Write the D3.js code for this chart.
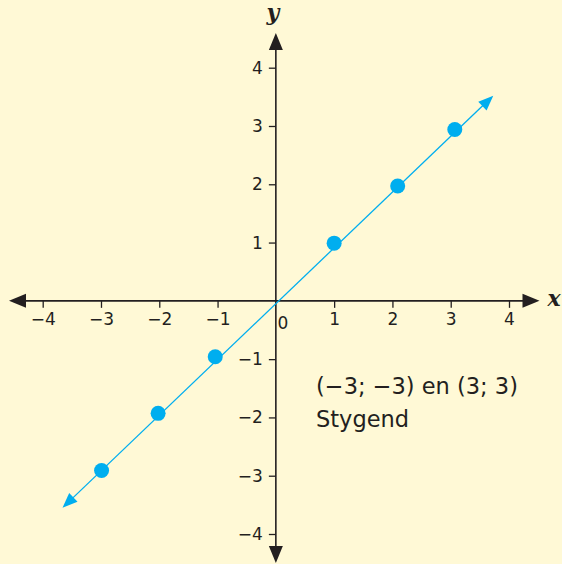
<!DOCTYPE html>
<html>
<head>
<meta charset="utf-8">
<script src="https://cdn.jsdelivr.net/npm/d3@7"></script>
<style>
  body { margin: 0; background: #fff9d6; }
  svg { display: block; }
  text { font-family: "DejaVu Sans", sans-serif; fill: #231f20; }
</style>
</head>
<body>
<svg width="562" height="564"></svg>
<script>
var xTicks = [-4, -3, -2, -1, 1, 2, 3, 4];
var yTicks = [-4, -3, -2, -1, 1, 2, 3, 4];
var pointsX = [-2.99, -2.02, -1.04, 1.0, 2.09, 3.07];
var pointsY = [-2.91, -1.93, -0.96, 0.99, 1.97, 2.94];
var lineX = [-3.66, 3.73];
var lineY = [-3.55, 3.52];
var note = ["(\u22123; \u22123) en (3; 3)", "Stygend"];

var svg = d3.select("svg"),
    width = 562,
    height = 564;

svg.append("rect").attr("width", width).attr("height", height).attr("fill", "#fff9d6");

var xScale = d3.scaleLinear().domain([-4, 4]).range([42.7, 509]);
var yScale = d3.scaleLinear().domain([-4, 4]).range([534, 67.7]);

var ink = "#231f20", blue = "#00aeef";
var fmt = function (d) { return d < 0 ? "\u2212" + Math.abs(d) : d; };

var g = svg.append("g");

// x-axis line + arrows
g.append("line")
  .attr("x1", 12).attr("x2", 536)
  .attr("y1", yScale(0)).attr("y2", yScale(0))
  .attr("stroke", ink).attr("stroke-width", 1.6);
g.append("path")
  .attr("d", "M9," + yScale(0) + "l17,-7v14z")
  .attr("fill", ink);
g.append("path")
  .attr("d", "M539.5," + yScale(0) + "l-17,-7v14z")
  .attr("fill", ink);

// y-axis line + arrows
g.append("line")
  .attr("x1", xScale(0)).attr("x2", xScale(0))
  .attr("y1", 36).attr("y2", 560)
  .attr("stroke", ink).attr("stroke-width", 1.6);
g.append("path")
  .attr("d", "M" + xScale(0) + ",33l-7,17h14z")
  .attr("fill", ink);
g.append("path")
  .attr("d", "M" + xScale(0) + ",563l-7,-17h14z")
  .attr("fill", ink);

// x ticks
var xg = g.append("g")
  .attr("transform", "translate(0," + yScale(0) + ")")
  .call(d3.axisBottom(xScale).tickValues(xTicks).tickSize(7).tickPadding(5).tickFormat(fmt));
xg.select(".domain").remove();
xg.selectAll("line").attr("stroke", ink).attr("stroke-width", 1.3);
xg.selectAll("text").attr("font-size", 17).attr("fill", ink)
  .style("font-family", "'DejaVu Sans', sans-serif");

// y ticks
var yg = g.append("g")
  .attr("transform", "translate(" + xScale(0) + ",0)")
  .call(d3.axisLeft(yScale).tickValues(yTicks).tickSize(7).tickPadding(6).tickFormat(fmt));
yg.select(".domain").remove();
yg.selectAll("line").attr("stroke", ink).attr("stroke-width", 1.3);
yg.selectAll("text").attr("font-size", 17).attr("fill", ink)
  .style("font-family", "'DejaVu Sans', sans-serif");

// zero label
g.append("text")
  .attr("x", xScale(0) + 7).attr("y", yScale(0) + 28)
  .attr("text-anchor", "middle").attr("font-size", 17)
  .text("0");

// axis names
g.append("text")
  .attr("x", 554).attr("y", yScale(0) + 5)
  .attr("text-anchor", "middle")
  .style("font-family", "'DejaVu Serif', 'Liberation Serif', serif")
  .attr("font-size", 22).attr("font-style", "italic").attr("font-weight", "bold")
  .text("x");
g.append("text")
  .attr("x", xScale(0) - 3).attr("y", 20)
  .attr("text-anchor", "middle")
  .style("font-family", "'DejaVu Serif', 'Liberation Serif', serif")
  .attr("font-size", 22).attr("font-style", "italic").attr("font-weight", "bold")
  .text("y");

// blue line with arrows
var x1 = xScale(lineX[0]), y1 = yScale(lineY[0]), x2 = xScale(lineX[1]), y2 = yScale(lineY[1]);
var ang = Math.atan2(y2 - y1, x2 - x1);
var aLen = 15, aW = 6;
function head(px, py, a) {
  var bx = px - aLen * Math.cos(a), by = py - aLen * Math.sin(a);
  return "M" + px + "," + py +
    "L" + (bx - aW * Math.sin(a)) + "," + (by + aW * Math.cos(a)) +
    "L" + (bx + aW * Math.sin(a)) + "," + (by - aW * Math.cos(a)) + "Z";
}
g.append("line")
  .attr("x1", x1 + 10 * Math.cos(ang)).attr("y1", y1 + 10 * Math.sin(ang))
  .attr("x2", x2 - 10 * Math.cos(ang)).attr("y2", y2 - 10 * Math.sin(ang))
  .attr("stroke", blue).attr("stroke-width", 1.3);
g.append("path").attr("d", head(x2, y2, ang)).attr("fill", blue);
g.append("path").attr("d", head(x1, y1, ang + Math.PI)).attr("fill", blue);

// points
g.selectAll(".pt")
  .data(pointsX)
  .enter().append("circle")
  .attr("class", "pt")
  .attr("cx", function (d) { return xScale(d); })
  .attr("cy", function (d, i) { return yScale(pointsY[i]); })
  .attr("r", 7.5)
  .attr("fill", blue);

// note text
g.selectAll(".note")
  .data(note)
  .enter().append("text")
  .attr("class", "note")
  .attr("x", 316)
  .attr("y", function (d, i) { return 394 + i * 33; })
  .attr("font-size", 22.5)
  .text(function (d) { return d; });
</script>
</body>
</html>
